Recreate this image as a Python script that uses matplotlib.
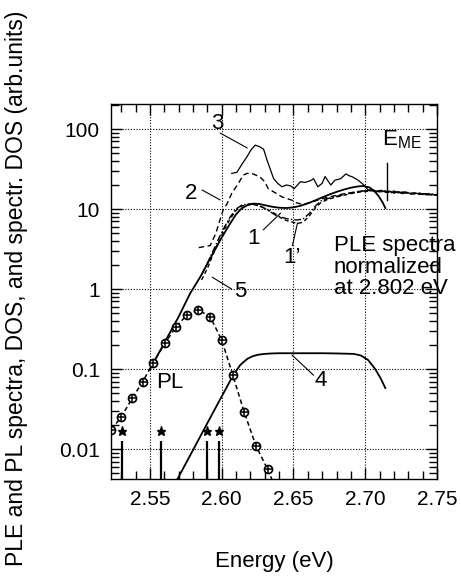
import matplotlib
matplotlib.use("Agg")
import matplotlib.pyplot as plt
import matplotlib.ticker as mticker

plt.rcParams["font.family"] = ["Liberation Sans", "DejaVu Sans"]
plt.rcParams["mathtext.fontset"] = "custom"
plt.rcParams["mathtext.rm"] = "Liberation Sans"

# PL spectrum (circled-plus markers on a dashed line)
PL_E = [2.5232, 2.5302, 2.5376, 2.5449, 2.5523, 2.5605, 2.5682, 2.5761,
        2.5838, 2.5920, 2.6001, 2.6078, 2.6157, 2.6239, 2.6320]
PL_V = [0.0176, 0.0254, 0.043, 0.069, 0.12, 0.21, 0.34, 0.48,
        0.55, 0.45, 0.23, 0.084, 0.029, 0.011, 0.0056]
PL_TAIL_E = [2.6320, 2.6360]
PL_TAIL_V = [0.0056, 0.0038]

# spectral lines marked with stars
LINE_E = [2.5306, 2.5575, 2.5900, 2.5980]
LINE_TOP = 0.0126
STAR_V = 0.0167

# curve 5: DOS
E5 = [2.550, 2.5605, 2.570, 2.578, 2.585, 2.593, 2.600, 2.605, 2.610, 2.614,
      2.618, 2.622, 2.626, 2.630, 2.635, 2.640, 2.645, 2.650, 2.655, 2.660,
      2.665, 2.670, 2.675, 2.680, 2.685, 2.690, 2.695, 2.699, 2.703, 2.706,
      2.709, 2.712, 2.714]
V5 = [0.099, 0.22, 0.45, 0.88, 1.41, 2.6, 4.4, 6.2, 8.6, 10.2,
      11.2, 11.7, 11.6, 11.2, 10.7, 10.4, 10.3, 10.5, 11.0, 11.8,
      12.8, 14.0, 15.2, 16.4, 17.5, 18.5, 19.2, 19.4, 18.6, 17.0,
      14.8, 12.2, 10.3]

# curve 4: spectral DOS
E4 = [2.566, 2.575, 2.585, 2.595, 2.603, 2.608, 2.613, 2.618, 2.622, 2.626,
      2.630, 2.635, 2.640, 2.650, 2.660, 2.670, 2.680, 2.686, 2.692, 2.697,
      2.702, 2.707, 2.711, 2.714]
V4 = [0.0033, 0.0066, 0.0143, 0.031, 0.057, 0.084, 0.113, 0.135, 0.146, 0.152,
      0.155, 0.157, 0.158, 0.158, 0.158, 0.158, 0.157, 0.156, 0.155, 0.148,
      0.13, 0.10, 0.075, 0.058]

# PLE spectra (normalized at 2.802 eV)
E1 = [2.586, 2.590, 2.594, 2.598, 2.602, 2.606, 2.610, 2.614, 2.618, 2.622,
      2.626, 2.630, 2.634, 2.638, 2.641, 2.645, 2.649, 2.653, 2.657, 2.661,
      2.665, 2.669, 2.673, 2.677, 2.681, 2.686, 2.690, 2.694, 2.698, 2.702,
      2.706, 2.710, 2.714, 2.718, 2.722, 2.726, 2.730, 2.734, 2.738, 2.742,
      2.746, 2.750]
V1 = [1.5, 2.1, 3.0, 4.3, 6.0, 8.0, 10.0, 11.2, 11.6, 11.5,
      11.0, 10.2, 9.2, 8.3, 8.0, 7.6, 7.4, 7.3, 7.6, 8.8,
      10.8, 12.6, 13.4, 14.0, 14.6, 15.3, 15.9, 16.4, 16.8, 17.0,
      16.6, 16.9, 16.2, 16.5, 15.9, 16.3, 15.6, 15.9, 15.3, 15.6,
      15.0, 15.2]
V1p = [1.3, 1.8, 2.7, 3.9, 5.6, 7.6, 9.6, 10.9, 11.4, 11.4,
       11.0, 10.3, 9.4, 8.6, 7.8, 7.2, 6.9, 6.6, 6.9, 8.2,
       10.2, 12.0, 13.0, 13.7, 14.3, 15.0, 15.6, 16.1, 16.5, 16.7,
       17.2, 16.4, 16.8, 16.0, 16.6, 15.7, 16.1, 15.4, 15.8, 15.1,
       15.4, 14.8]

E2 = [2.584, 2.588, 2.592, 2.596, 2.599, 2.6012, 2.6036, 2.607, 2.6117, 2.615,
      2.618, 2.621, 2.6266, 2.630, 2.6324, 2.636, 2.642, 2.649, 2.652, 2.656,
      2.660, 2.665, 2.670, 2.675, 2.680, 2.685, 2.690, 2.695, 2.700, 2.704,
      2.708, 2.712, 2.716, 2.720, 2.724, 2.728, 2.732, 2.736, 2.740, 2.744,
      2.748, 2.750]
V2 = [3.3, 3.4, 3.5, 5.0, 7.5, 10.0, 11.5, 15.7, 21.0, 26.6,
      28.0, 27.9, 25.3, 22.0, 18.0, 16.5, 14.2, 12.9, 12.0, 11.5,
      11.8, 12.6, 13.5, 14.2, 14.8, 15.5, 16.0, 16.6, 16.8, 17.4,
      16.5, 17.1, 16.2, 16.8, 15.8, 16.4, 15.5, 16.0, 15.2, 15.6,
      14.9, 15.1]

E3 = [2.607, 2.6106, 2.614, 2.6176, 2.6205, 2.6234, 2.6265, 2.6292, 2.6316, 2.634,
      2.6362, 2.639, 2.642, 2.645, 2.648, 2.6505, 2.6549, 2.658, 2.662, 2.664,
      2.667, 2.670, 2.672, 2.676, 2.679, 2.683, 2.6865, 2.689, 2.691, 2.695,
      2.699, 2.702, 2.705, 2.708, 2.711, 2.714, 2.717, 2.720, 2.723, 2.726,
      2.729, 2.732, 2.735, 2.738, 2.741, 2.744, 2.747, 2.750]
V3 = [27.9, 28.8, 36, 45, 55, 63, 60, 56, 41, 31,
      24, 21, 19, 20, 19.5, 18, 22, 21.5, 22.7, 24,
      19, 21, 25.5, 20, 23, 24, 27.5, 26, 25.3, 23,
      20, 17.3, 17, 16.5, 17.2, 16.3, 16.8, 15.8, 16.5, 15.6,
      16.2, 15.4, 15.9, 15.2, 15.6, 15.0, 15.3, 14.8]

E_ME = 2.7154

fig = plt.figure(figsize=(4.61, 5.78), dpi=100)
ax = fig.add_axes([0.241, 0.171, 0.707, 0.649])

k = dict(color="black")
ax.plot(E5, V5, lw=1.3, **k)
ax.plot(E4, V4, lw=1.3, **k)
ax.plot(E3, V3, lw=0.9, **k)
ax.plot(E2, V2, lw=1.0, ls=(0, (4, 2.5)), **k)
ax.plot(E1, V1, lw=1.0, ls=(0, (5, 1.5, 1, 1.5)), **k)
ax.plot(E1, V1p, lw=1.0, ls=(0, (3, 2)), **k)

ax.plot(PL_E, PL_V, lw=1.1, ls=(0, (3, 2)), **k)
ax.plot(PL_TAIL_E, PL_TAIL_V, lw=1.1, ls=(0, (3, 2)), **k)
ax.plot(PL_E, PL_V, ls="none", marker="o", ms=5.8, mfc="white", mec="black", mew=1.2)
ax.plot(PL_E, PL_V, ls="none", marker="+", ms=5.8, mec="black", mew=1.1)

ax.vlines(LINE_E, 1e-3, LINE_TOP, color="black", lw=1.6)
ax.plot(LINE_E, [STAR_V] * len(LINE_E), ls="none", marker="*", ms=6.5, color="black")

ax.plot([E_ME, E_ME], [13, 37.6], lw=1.0, **k)

ax.set_yscale("log")
ax.set_xlim(2.523, 2.75)
ax.set_ylim(10 ** -2.375, 10 ** 2.3125)

ax.xaxis.set_major_locator(mticker.MultipleLocator(0.05))
ax.xaxis.set_minor_locator(mticker.MultipleLocator(0.01))
ax.xaxis.set_major_formatter(mticker.FormatStrFormatter("%.2f"))
ax.yaxis.set_major_locator(mticker.LogLocator(base=10, numticks=10))
ax.yaxis.set_minor_locator(mticker.LogLocator(base=10, subs=range(2, 10), numticks=10))
ax.yaxis.set_minor_formatter(mticker.NullFormatter())
ax.yaxis.set_major_formatter(mticker.FuncFormatter(lambda v, _: f"{v:g}"))

ax.tick_params(which="both", direction="in", top=True, right=True, width=1.0,
               labelsize=15, pad=8)
ax.tick_params(which="major", length=8)
ax.tick_params(which="minor", length=6)
ax.grid(which="major", ls=(0, (1, 1.5)), lw=0.8, color="black")
for s in ax.spines.values():
    s.set_linewidth(1.0)

ax.set_xlabel("Energy (eV)", fontsize=16, labelpad=30)
ax.set_ylabel("PLE and PL spectra, DOS, and spectr. DOS (arb.units)", fontsize=16.5)
ax.yaxis.set_label_coords(-0.255, 0.51)

lk = dict(arrowprops=dict(arrowstyle="-", color="black", lw=0.8,
                          shrinkA=0, shrinkB=0))
ax.text(2.597, 119, "3", fontsize=16, ha="center", va="center")
ax.annotate("", xy=(2.6178, 58), xytext=(2.599, 89), **lk)
ax.text(2.579, 15.8, "2", fontsize=16, ha="center", va="center")
ax.annotate("", xy=(2.599, 13), xytext=(2.5864, 17.3), **lk)
ax.text(2.622, 4.3, "1", fontsize=16, ha="center", va="center")
ax.annotate("", xy=(2.641, 8.9), xytext=(2.629, 5.5), **lk)
ax.text(2.649, 2.5, "1\u2019", fontsize=16, ha="center", va="center")
ax.annotate("", xy=(2.6528, 6.7), xytext=(2.6493, 3.5), **lk)
ax.text(2.613, 0.92, "5", fontsize=16, ha="center", va="center")
ax.annotate("", xy=(2.5934, 1.41), xytext=(2.607, 1.0), **lk)
ax.text(2.669, 0.073, "4", fontsize=16, ha="center", va="center")
ax.annotate("", xy=(2.649, 0.15), xytext=(2.664, 0.084), **lk)
ax.text(2.564, 0.069, "PL", fontsize=16, ha="center", va="center")
ax.text(2.7115, 73, r"E$_\mathregular{ME}$", fontsize=16, ha="left", va="center")
ax.text(2.678, 1.88, "PLE spectra\nnormalized\nat 2.802 eV", fontsize=16,
        ha="left", va="center", linespacing=1.05)

fig.savefig("out.png", dpi=100)
